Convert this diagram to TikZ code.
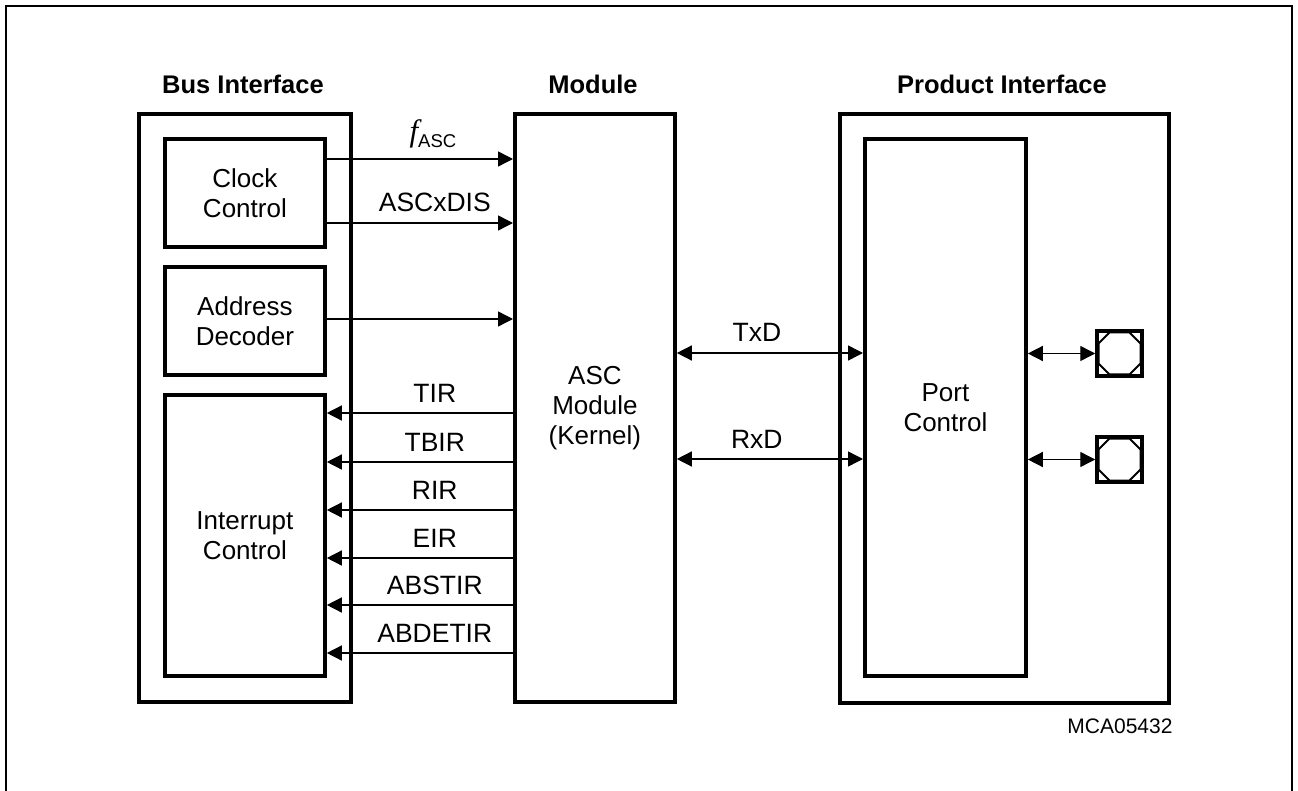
\documentclass[tikz,border=0pt]{standalone}
\usepackage{fontspec}
\setmainfont{Liberation Sans}
\newfontfamily\myserif{Liberation Serif}
\usetikzlibrary{arrows.meta,calc}
\newcommand\mysigsize{\fontsize{26.5}{29}\selectfont}
\newcommand\myboxsize{\fontsize{26}{30}\selectfont}
\newcommand\mytitlesize{\fontsize{25.5}{28}\selectfont\bfseries}
\begin{document}
\begin{tikzpicture}[x=1pt,y=1pt,
  blk/.style={draw,line width=3.8pt,inner sep=0pt,anchor=north west,align=center,font=\myboxsize},
  ttl/.style={font=\mytitlesize,inner sep=0pt},
  lab/.style={font=\mysigsize,anchor=base,inner sep=0pt,yshift=11pt},
  sig/.style={line width=1.4pt,-{Triangle[length=15pt,width=15pt]}},
  bsig/.style={line width=1.4pt,{Triangle[length=15pt,width=15pt]}-{Triangle[length=15pt,width=15pt]}},
  padbox/.style={draw,line width=3.5pt,minimum size=45pt,inner sep=0pt}]
\useasboundingbox (0,0) rectangle (1298,-791);
\clip (0,0) rectangle (1298,-791);
\draw[line width=2.5pt] (6,-6) rectangle (1292,-830);

% titles
\node[ttl] (tbus) at (243,-84) {Bus Interface};
\node[ttl] (tmod) at (593,-84) {Module};
\node[ttl] (tprod) at (1002,-84) {Product Interface};

% outer blocks
\node[blk,minimum width=212pt,minimum height=588pt] (bus) at (137,-112) {};
\node[blk,minimum width=160pt,minimum height=588pt] (mod) at (513,-112) {ASC\\Module\\(Kernel)};
\node[blk,minimum width=329pt,minimum height=589pt] (prod) at (838,-112) {};

% inner blocks
\node[blk,minimum width=160pt,minimum height=108pt] (cc) at (163,-137) {Clock\\Control};
\node[blk,minimum width=160pt,minimum height=108pt] (ad) at (163,-265) {Address\\Decoder};
\node[blk,minimum width=160pt,minimum height=281pt] (ic) at (163,-393) {Interrupt\\Control};
\node[blk,minimum width=161pt,minimum height=537pt] (pc) at (863,-137) {Port\\Control};

% level coordinates
\coordinate (l1) at (0,-159);
\coordinate (l2) at (0,-223);
\coordinate (l3) at (0,-319);
\coordinate (i1) at (0,-413);
\coordinate (i2) at (0,-462);
\coordinate (i3) at (0,-510);
\coordinate (i4) at (0,-558);
\coordinate (i5) at (0,-605);
\coordinate (i6) at (0,-653);
\coordinate (t1) at (0,-353);
\coordinate (t2) at (0,-459);

% bus -> module
\draw[sig] (cc.east |- l1) -- node[lab,pos=0.57,yshift=6pt] {{\myserif\itshape\fontsize{31}{31}\selectfont f}\raisebox{-6pt}{\fontsize{18.5}{18}\selectfont ASC}} (mod.west |- l1);
\draw[sig] (cc.east |- l2) -- node[lab,pos=0.58] {ASCxDIS} (mod.west |- l2);
\draw[sig] (ad.east |- l3) -- (mod.west |- l3);

% module -> interrupt
\draw[sig] (mod.west |- i1) -- node[lab,pos=0.42] {TIR} (ic.east |- i1);
\draw[sig] (mod.west |- i2) -- node[lab,pos=0.42] {TBIR} (ic.east |- i2);
\draw[sig] (mod.west |- i3) -- node[lab,pos=0.42] {RIR} (ic.east |- i3);
\draw[sig] (mod.west |- i4) -- node[lab,pos=0.42] {EIR} (ic.east |- i4);
\draw[sig] (mod.west |- i5) -- node[lab,pos=0.42] {ABSTIR} (ic.east |- i5);
\draw[sig] (mod.west |- i6) -- node[lab,pos=0.42] {ABDETIR} (ic.east |- i6);

% module <-> port control
\draw[bsig] (mod.east |- t1) -- node[lab,pos=0.43] {TxD} (pc.west |- t1);
\draw[bsig] (mod.east |- t2) -- node[lab,pos=0.43] {RxD} (pc.west |- t2);

% pads
\node[padbox] (p1) at (1119.5,-353.5) {};
\node[padbox] (p2) at (1119.5,-459.5) {};
\foreach \p in {p1,p2}{
  \draw[line width=2pt,shift={(\p.center)}] (-10,21) -- (10,21) -- (21,10) -- (21,-10) -- (10,-21) -- (-10,-21) -- (-21,-10) -- (-21,10) -- cycle;
}
\draw[bsig] (pc.east |- p1) -- (p1.west);
\draw[bsig] (pc.east |- p2) -- (p2.west);

\node[font=\fontsize{21}{24}\selectfont,inner sep=0pt] (id) at (1120,-726) {MCA05432};
\end{tikzpicture}
\end{document}
